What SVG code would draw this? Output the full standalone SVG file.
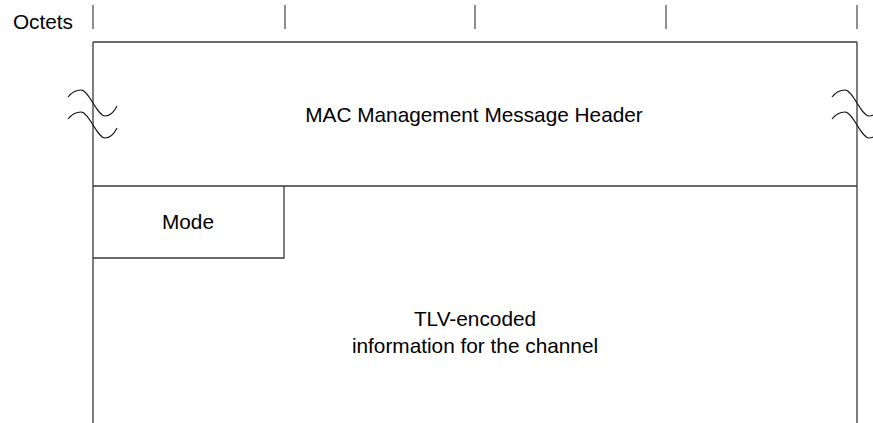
<svg xmlns="http://www.w3.org/2000/svg" width="873" height="423" viewBox="0 0 873 423">
<style>
.ln{stroke:#3a3a3a;stroke-width:1.3;fill:none}
.tk{stroke:#555;stroke-width:1.3;fill:none}
.wv{stroke:#111;stroke-width:1.1;fill:none}
text{font-family:"Liberation Sans",Arial,sans-serif;font-size:20.8px;fill:#000}
</style>
<defs>
<path id="wave" d="M-25,-6 C-21,-11 -17,-13 -12,-13 C-4,-13 4,13 12,13 C17,13 21,9 24,3"/>
</defs>
<rect width="873" height="423" fill="#fff"/>
<g id="ruler">
<text x="73" y="29" text-anchor="end">Octets</text>
<path class="tk" d="M93,5V29M285,5V29M475,5V29M666,5V29M857,5V29"/>
</g>
<g id="header">
<path class="ln" d="M93,42H857"/>
<text x="474" y="122" text-anchor="middle">MAC Management Message Header</text>
</g>
<g id="frame">
<path class="ln" d="M93,42V423M857,42V423M93,186H857"/>
</g>
<g id="breaks">
<use href="#wave" class="wv" x="93" y="103"/>
<use href="#wave" class="wv" x="93" y="125"/>
<use href="#wave" class="wv" x="857" y="103"/>
<use href="#wave" class="wv" x="857" y="125"/>
</g>
<g id="mode">
<path class="ln" d="M93,258H284V186"/>
<text x="188" y="229" text-anchor="middle">Mode</text>
</g>
<g id="tlv">
<text x="475" y="326" text-anchor="middle">TLV-encoded</text>
<text x="475" y="353" text-anchor="middle">information for the channel</text>
</g>
</svg>
